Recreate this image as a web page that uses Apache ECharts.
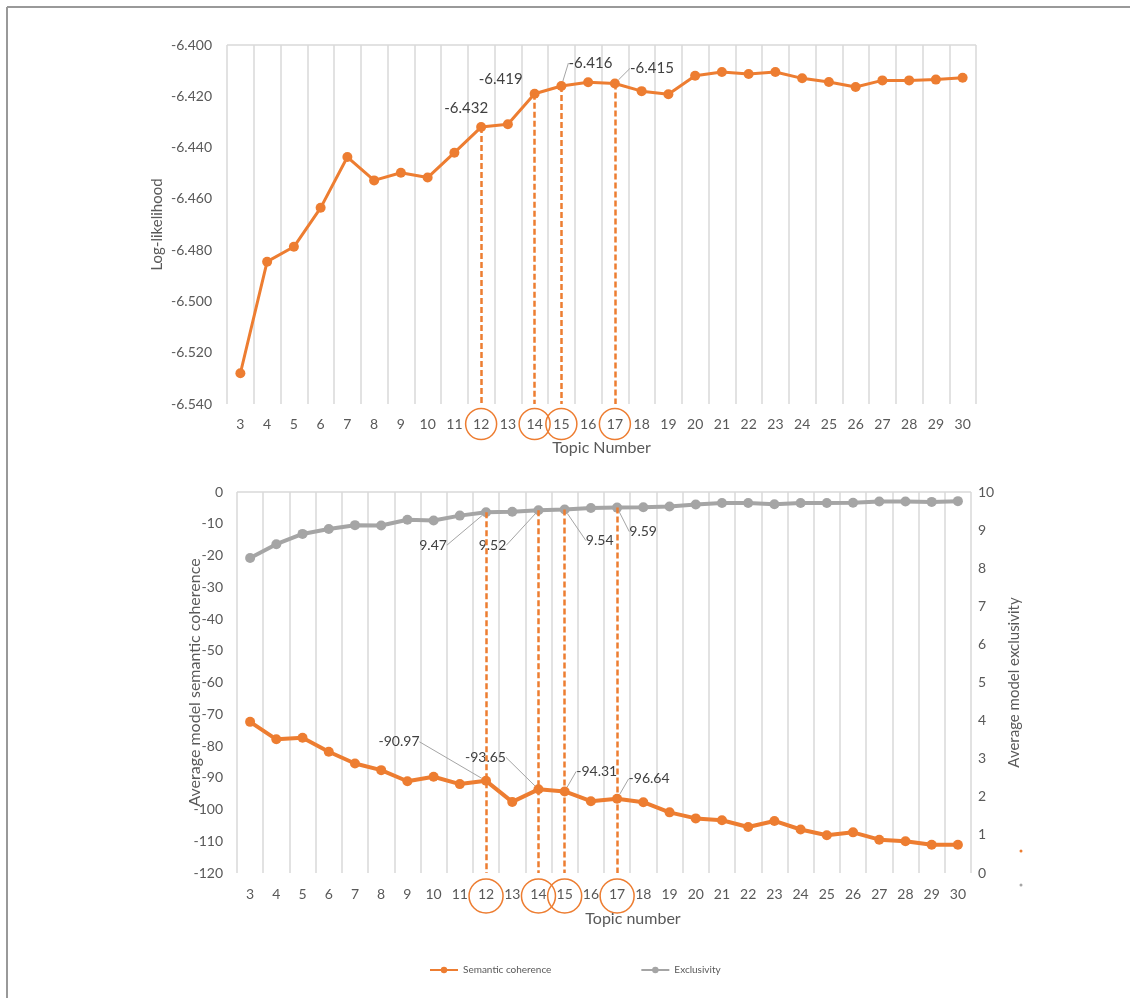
<!DOCTYPE html>
<html>
<head>
<meta charset="utf-8">
<title>Topic number selection</title>
<script src="https://cdn.jsdelivr.net/npm/echarts@6/dist/echarts.min.js"></script>
<style>
  html, body { margin: 0; padding: 0; background: #fff; }
  #main { width: 1130px; height: 998px; }
</style>
</head>
<body>
<div id="main"></div>
<script>
// data
const topics = ['3', '4', '5', '6', '7', '8', '9', '10', '11', '12', '13', '14', '15', '16',
  '17', '18', '19', '20', '21', '22', '23', '24', '25', '26', '27', '28', '29', '30'];
const logLikelihood = [-6.528, -6.4845, -6.4787, -6.4635, -6.4437, -6.4528, -6.4498, -6.4517,
  -6.442, -6.432, -6.4309, -6.419, -6.416, -6.4145, -6.415, -6.418, -6.4192, -6.412, -6.4105,
  -6.4113, -6.4105, -6.413, -6.4144, -6.4164, -6.4138, -6.4138, -6.4135, -6.4128];
const semanticCoherence = [-72.4, -77.9, -77.4, -81.8, -85.5, -87.6, -91.1, -89.7, -92.0,
  -90.97, -97.6, -93.65, -94.31, -97.4, -96.64, -97.7, -100.9, -102.8, -103.4, -105.5, -103.6,
  -106.3, -108.1, -107.2, -109.5, -110.0, -111.1, -111.1];
const exclusivity = [8.27, 8.63, 8.90, 9.03, 9.13, 9.12, 9.27, 9.25, 9.38, 9.47, 9.48, 9.52,
  9.54, 9.58, 9.59, 9.60, 9.62, 9.67, 9.71, 9.71, 9.68, 9.71, 9.71, 9.72, 9.75, 9.75, 9.74, 9.76];
const highlightTopics = ['12', '14', '15', '17'];

const ORANGE = '#ED7D31';
const GREY = '#A5A5A5';
const TEXT = '#595959';
const GRIDLINE = '#D9D9D9';
const FONT = 'Lato, "Open Sans", sans-serif';

// where each data label sits relative to its point: [dx, dy, leader line]
const llShift = { '12': [-15, -19, false], '14': [-34, -15, false], '15': [29, -23, true], '17': [37, -15, true] };
const cohShift = { '12': [-87, -39, true], '14': [-53, -32, true], '15': [32, -20, true], '17': [32, -20, true] };
const excShift = { '12': [-53, 33, true], '14': [-46, 35, true], '15': [35, 31, true], '17': [26, 24, true] };

function labelled(values, shift, size) {
  return values.map((v, i) => {
    const s = shift[topics[i]];
    if (!s) return v;
    return {
      value: v,
      label: { show: true, position: 'inside', color: '#404040', fontSize: size, fontFamily: FONT },
      labelLine: { show: s[2] }
    };
  });
}
function layoutFrom(shift) {
  return function (p) {
    const s = shift[topics[p.dataIndex]];
    return s ? { dx: s[0], dy: s[1] } : {};
  };
}
function dropLines(values, bottom) {
  return highlightTopics.map(t => {
    const i = topics.indexOf(t);
    return [{ coord: [i, values[i]] }, { coord: [i, bottom] }];
  });
}
function rings(bottom, size, offset) {
  return {
    silent: true,
    symbol: 'circle',
    symbolSize: size,
    symbolOffset: [0, offset],
    itemStyle: { color: 'rgba(0,0,0,0)', borderColor: ORANGE, borderWidth: 1.5 },
    label: { show: false },
    data: highlightTopics.map(t => ({ coord: [topics.indexOf(t), bottom] }))
  };
}
// only the top horizontal gridline is drawn
function topLineOnly(n) {
  const c = [];
  for (let i = 0; i < n - 1; i++) c.push('rgba(0,0,0,0)');
  c.push(GRIDLINE);
  return c;
}

const chart = echarts.init(document.getElementById('main'));
chart.setOption({
  animation: false,
  backgroundColor: '#fff',
  textStyle: { fontFamily: FONT },
  grid: [
    { left: 227, right: 154, top: 45, height: 359 },
    { left: 237, right: 159, top: 492, height: 381 }
  ],
  xAxis: [
    {
      type: 'category', gridIndex: 0, data: topics,
      axisLine: { show: false }, axisTick: { show: false },
      axisLabel: { color: TEXT, fontSize: 14, margin: 13 },
      splitLine: { show: true, lineStyle: { color: GRIDLINE, width: 1.5 } },
      name: 'Topic Number', nameLocation: 'middle', nameGap: 36, nameMoveOverlap: false,
      nameTextStyle: { color: TEXT, fontSize: 16 }
    },
    {
      type: 'category', gridIndex: 1, data: topics,
      axisLine: { show: false }, axisTick: { show: false },
      axisLabel: { color: TEXT, fontSize: 14, margin: 14 },
      splitLine: { show: true, lineStyle: { color: GRIDLINE, width: 1.5 } },
      name: 'Topic number', nameLocation: 'middle', nameGap: 38, nameMoveOverlap: false,
      nameTextStyle: { color: TEXT, fontSize: 16, padding: [0, 0, 0, 58] }
    }
  ],
  yAxis: [
    {
      type: 'value', gridIndex: 0, min: -6.54, max: -6.4, interval: 0.02,
      axisLine: { show: false }, axisTick: { show: false },
      axisLabel: { color: TEXT, fontSize: 14, margin: 15, formatter: v => v.toFixed(3) },
      splitLine: { show: true, lineStyle: { color: topLineOnly(8), width: 1.5 } },
      name: 'Log-likelihood', nameLocation: 'middle', nameGap: 62, nameRotate: 90, nameMoveOverlap: false,
      nameTextStyle: { color: TEXT, fontSize: 15 }
    },
    {
      type: 'value', gridIndex: 1, min: -120, max: 0, interval: 10,
      axisLine: { show: false }, axisTick: { show: false },
      axisLabel: { color: TEXT, fontSize: 14, margin: 14 },
      splitLine: { show: true, lineStyle: { color: topLineOnly(13), width: 1.5 } },
      name: 'Average model semantic coherence', nameLocation: 'middle', nameGap: 34, nameRotate: 90,
      nameMoveOverlap: false,
      nameTextStyle: { color: TEXT, fontSize: 16 }
    },
    {
      type: 'value', gridIndex: 1, position: 'right', min: 0, max: 10, interval: 1,
      axisLine: { show: false }, axisTick: { show: false },
      axisLabel: { color: TEXT, fontSize: 14, margin: 7 },
      splitLine: { show: false },
      name: 'Average model exclusivity', nameLocation: 'middle', nameGap: 36, nameRotate: 90,
      nameMoveOverlap: false,
      nameTextStyle: { color: TEXT, fontSize: 15 }
    }
  ],
  legend: {
    left: 424, top: 960, itemWidth: 28, itemHeight: 8, itemGap: 89,
    textStyle: { color: TEXT, fontSize: 10, fontFamily: FONT },
    data: ['Semantic coherence', 'Exclusivity']
  },
  series: [
    {
      name: 'Log-likelihood', type: 'line', xAxisIndex: 0, yAxisIndex: 0,
      data: labelled(logLikelihood, llShift, 15),
      symbol: 'circle', symbolSize: 10,
      lineStyle: { color: ORANGE, width: 3 },
      itemStyle: { color: ORANGE },
      label: { show: false },
      labelLine: { show: true, lineStyle: { color: GREY, width: 1 } },
      labelLayout: layoutFrom(llShift),
      markLine: {
        silent: true, symbol: ['none', 'none'], label: { show: false },
        lineStyle: { color: ORANGE, type: [6, 3], width: 2.5 },
        data: dropLines(logLikelihood, -6.54)
      },
      markPoint: rings(-6.54, 31, 20)
    },
    {
      name: 'Semantic coherence', type: 'line', xAxisIndex: 1, yAxisIndex: 1,
      data: labelled(semanticCoherence, cohShift, 14),
      symbol: 'circle', symbolSize: 10,
      lineStyle: { color: ORANGE, width: 4 },
      itemStyle: { color: ORANGE },
      label: { show: false },
      labelLine: { show: true, lineStyle: { color: GREY, width: 1 } },
      labelLayout: layoutFrom(cohShift),
      markPoint: rings(-120, 34, 23)
    },
    {
      name: 'Exclusivity', type: 'line', xAxisIndex: 1, yAxisIndex: 2,
      data: labelled(exclusivity, excShift, 14),
      symbol: 'circle', symbolSize: 10,
      lineStyle: { color: GREY, width: 4 },
      itemStyle: { color: GREY },
      label: { show: false },
      labelLine: { show: true, lineStyle: { color: GREY, width: 1 } },
      labelLayout: layoutFrom(excShift),
      markLine: {
        silent: true, symbol: ['none', 'none'], label: { show: false },
        lineStyle: { color: ORANGE, type: [6, 3], width: 2.5 },
        data: dropLines(exclusivity, 0)
      }
    }
  ],
  graphic: [
    { type: 'line', shape: { x1: 7, y1: 7, x2: 1130, y2: 7 }, style: { stroke: '#999', lineWidth: 2 } },
    { type: 'line', shape: { x1: 7, y1: 7, x2: 7, y2: 998 }, style: { stroke: '#999', lineWidth: 2 } },
    { type: 'circle', shape: { cx: 1021, cy: 851, r: 1.5 }, style: { fill: ORANGE } },
    { type: 'circle', shape: { cx: 1021, cy: 885, r: 1.5 }, style: { fill: GREY } }
  ]
});
</script>
</body>
</html>
